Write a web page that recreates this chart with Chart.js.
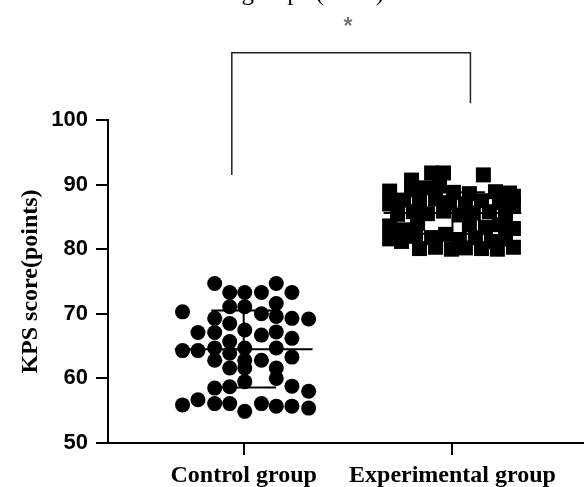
<!DOCTYPE html>
<html>
<head>
<meta charset="utf-8">
<script src="https://cdn.jsdelivr.net/npm/chart.js@4/dist/chart.umd.min.js"></script>
<style>
html,body{margin:0;padding:0;background:#fff;}
#wrap{width:584px;height:487px;}
</style>
</head>
<body>
<div id="wrap"><canvas id="c" width="584" height="487"></canvas></div>
<script>
// ---- data ----
const categories = ["Control group", "Experimental group"];
const yTicks = [50, 60, 70, 80, 90, 100];

// Control group: horizontal jitter (category units) and KPS values
const controlJitter = [-0.139,0.156,-0.067,0.005,0.085,0.231,0.156,-0.067,0.005,-0.293,
  -0.139,0.085,0.156,0.231,0.311,-0.067,0.005,-0.219,-0.139,0.156,0.085,0.231,
  -0.067,-0.139,-0.293,-0.219,0.005,0.156,-0.067,-0.139,0.005,0.085,0.231,
  -0.067,0.005,0.156,0.005,0.156,-0.067,-0.139,0.231,0.311,
  -0.139,-0.067,-0.219,-0.293,0.085,0.156,0.231,0.311,0.005];
const controlValues = [74.7,74.7,73.3,73.3,73.3,73.3,71.6,71.1,71.1,70.3,
  69.3,70.0,69.6,69.3,69.2,68.5,67.5,67.1,67.1,67.2,66.7,66.2,
  65.7,64.7,64.3,64.3,64.7,64.7,63.9,62.8,62.8,62.8,63.3,
  61.6,61.6,61.6,59.5,60.0,58.7,58.5,58.8,58.0,
  56.1,56.1,56.7,55.9,56.1,55.7,55.7,55.4,54.9];

// Experimental group
const expJitter = [-0.100,-0.043,0.148,-0.196,
  -0.301,-0.196,-0.129,-0.062,0.005,0.081,0.206,0.273,0.292,
  -0.301,-0.234,-0.158,-0.081,-0.014,0.062,0.139,0.225,0.292,
  -0.263,-0.187,-0.120,-0.043,0.033,0.100,0.177,0.254,
  -0.301,-0.234,-0.167,0.081,0.158,0.225,0.292,
  -0.301,-0.244,-0.177,-0.100,-0.033,0.033,0.110,0.187,0.254,
  -0.158,-0.081,-0.005,0.062,0.139,0.215,0.292];
const expValues = [91.8,91.8,91.5,90.7,
  89.0,89.2,89.5,89.8,88.8,88.6,88.9,88.7,88.2,
  87.0,87.6,87.3,87.8,87.2,87.0,87.5,87.2,86.9,
  85.4,85.8,85.5,85.9,85.3,85.6,85.8,85.4,
  83.6,83.0,84.0,83.8,83.4,83.8,83.2,
  81.6,81.2,82.0,81.8,82.3,81.5,81.8,81.2,81.6,
  80.1,80.3,80.0,80.2,80.1,80.0,80.3];

// mean and SD (upper / lower) per group
const groupMean = [64.5, 85.6];
const groupUpper = [70.5, 88.8];
const groupLower = [58.6, 82.4];

// significance bracket (value units)
const bracketTop = 110.4;
const bracketLeftBottom = 91.5;
const bracketRightBottom = 102.6;
const sigLabel = "*";
const sigLabelLevel = 113.3;
const titleFragment = "groups (n=50)";

// ---- build ----
const ctrlPts = controlValues.map((v,i)=>({x:1+controlJitter[i], y:v}));
const expPts = expValues.map((v,i)=>({x:2+expJitter[i], y:v}));

const MEAN_HW = 0.33, CAP_HW = 0.155;
function lineDs(pts, color, width, clip){
  return {type:'scatter', data:pts, showLine:true, borderColor:color, borderWidth:width,
    pointRadius:0, pointHoverRadius:0, fill:false, clip: clip===false?false:undefined, order:0};
}
const statDatasets = [];
[1,2].forEach((cx,i)=>{
  statDatasets.push(lineDs([{x:cx-MEAN_HW,y:groupMean[i]},{x:cx+MEAN_HW,y:groupMean[i]}],'#000',2));
  statDatasets.push(lineDs([{x:cx-CAP_HW,y:groupUpper[i]},{x:cx+CAP_HW,y:groupUpper[i]}],'#000',2));
  statDatasets.push(lineDs([{x:cx-CAP_HW,y:groupLower[i]},{x:cx+CAP_HW,y:groupLower[i]}],'#000',2));
  statDatasets.push(lineDs([{x:cx,y:groupLower[i]},{x:cx,y:groupUpper[i]}],'#000',2));
});
const bracket = lineDs([{x:0.943,y:bracketLeftBottom},{x:0.943,y:bracketTop},{x:2.086,y:bracketTop},{x:2.086,y:bracketRightBottom}],'#222',1.5,false);

const extras = {
  id:'extras',
  afterDraw(chart){
    const {ctx, scales} = chart;
    ctx.save();
    // significance star
    ctx.fillStyle = '#7a7a7a';
    ctx.font = 'bold 23px "Liberation Sans", Arial, sans-serif';
    ctx.textAlign = 'center';
    ctx.textBaseline = 'alphabetic';
    ctx.fillText(sigLabel, scales.x.getPixelForValue(1.5), scales.y.getPixelForValue(sigLabelLevel));
    // clipped title at the top edge
    ctx.fillStyle = '#000';
    ctx.font = '25px "Liberation Serif", "Times New Roman", serif';
    ctx.textAlign = 'right';
    ctx.fillText(titleFragment, 384, 0);
    ctx.restore();
  }
};

new Chart(document.getElementById('c'), {
  type:'scatter',
  data:{datasets:[
    ...statDatasets,
    bracket,
    {data:ctrlPts, pointStyle:'circle', pointRadius:7.5, pointBorderWidth:0, backgroundColor:'#000', borderColor:'#000', order:1},
    {data:expPts, pointStyle:'rect', pointRadius:10.6, pointBorderWidth:0, backgroundColor:'#000', borderColor:'#000', order:1}
  ]},
  options:{
    responsive:false, animation:false, devicePixelRatio:1,
    layout:{autoPadding:false, padding:{top:120, left:0, right:0, bottom:0}},
    plugins:{legend:{display:false}, tooltip:{enabled:false}, title:{display:false}},
    scales:{
      x:{type:'linear', min:0.35, max:2.63,
        afterBuildTicks(s){ s.ticks = [{value:1},{value:2}]; },
        afterFit(s){ s.height = 44; s.paddingLeft = 0; s.paddingRight = 0; },
        ticks:{callback:(v)=>categories[Math.round(v)-1] || '', color:'#000', padding:6,
          font:{family:'"Liberation Serif", "Times New Roman", serif', size:24, weight:'bold'}, maxRotation:0, autoSkip:false},
        grid:{display:true, drawOnChartArea:false, drawTicks:true, tickLength:12, color:'#000', lineWidth:2},
        border:{display:true, color:'#000', width:2}
      },
      y:{type:'linear', min:50, max:100,
        afterBuildTicks(s){ s.ticks = yTicks.map(v=>({value:v})); },
        afterFit(s){ s.width = 108; s.paddingTop = 0; s.paddingBottom = 0; },
        ticks:{color:'#000', padding:8, font:{family:'"Liberation Sans", Arial, sans-serif', size:22, weight:'bold'}},
        grid:{display:true, drawOnChartArea:false, drawTicks:true, tickLength:12, color:'#000', lineWidth:2},
        border:{display:true, color:'#000', width:2},
        title:{display:true, text:'KPS score(points)', color:'#000', padding:{top:16,bottom:0},
          font:{family:'"Liberation Serif", "Times New Roman", serif', size:24, weight:'bold'}}
      }
    }
  },
  plugins:[extras]
});
</script>
</body>
</html>
